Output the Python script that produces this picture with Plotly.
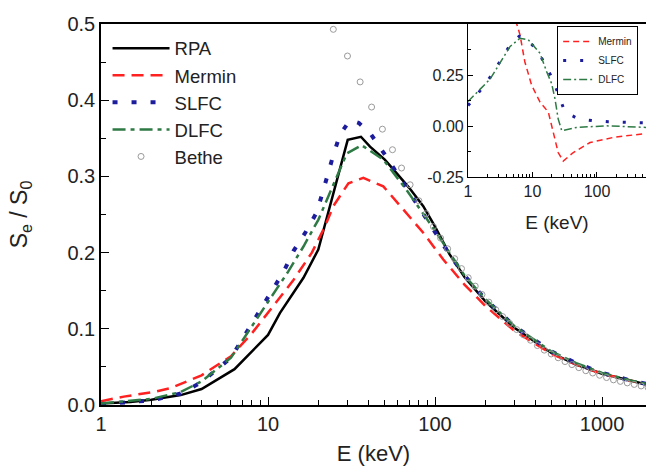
import plotly.graph_objects as go

# ---------------- main panel data ----------------
E_rpa = [1, 1.5, 2, 3, 4, 6.3, 10, 11.8, 16.3, 20, 30, 36, 40.8, 50, 59, 70, 85, 100, 122, 150, 200, 300, 500, 700, 1000, 1500, 2000]
S_rpa = [0.002, 0.004, 0.007, 0.013, 0.021, 0.047, 0.092, 0.121, 0.167, 0.204, 0.348, 0.352, 0.339, 0.322, 0.304, 0.285, 0.261, 0.234, 0.198, 0.168, 0.136, 0.101, 0.068, 0.053, 0.041, 0.031, 0.025]

E_mer = [1, 1.37, 2.05, 2.6, 4, 6, 8, 10, 14.2, 18.3, 21.9, 24.6, 30.3, 37.2, 49, 62, 85, 112, 150, 200, 300, 500, 700, 1000, 1500, 2000]
S_mer = [0.005, 0.011, 0.017, 0.022, 0.039, 0.064, 0.094, 0.121, 0.164, 0.2, 0.234, 0.261, 0.291, 0.298, 0.287, 0.261, 0.226, 0.191, 0.158, 0.13, 0.097, 0.067, 0.053, 0.041, 0.031, 0.025]

E_slfc = [1, 2, 3, 4, 6, 8.97, 10.6, 12.4, 14.2, 16.7, 19.6, 21.3, 22.9, 24.6, 27, 31, 35, 40.8, 50.3, 70.6, 99.7, 120, 150, 200, 300, 500, 700, 1000, 1500, 2000]
S_slfc = [0.001, 0.006, 0.015, 0.03, 0.062, 0.125, 0.149, 0.175, 0.202, 0.226, 0.253, 0.278, 0.304, 0.328, 0.355, 0.374, 0.37, 0.357, 0.328, 0.278, 0.226, 0.2, 0.17, 0.139, 0.103, 0.07, 0.055, 0.042, 0.032, 0.026]

E_dlfc = [1, 2, 3, 4, 6, 8.8, 10.7, 13.2, 16.3, 20, 23.5, 29.6, 36.3, 49, 67.6, 102, 150, 200, 300, 500, 700, 1000, 1500, 2000]
S_dlfc = [0.002, 0.008, 0.017, 0.031, 0.062, 0.118, 0.145, 0.175, 0.208, 0.243, 0.278, 0.330, 0.341, 0.322, 0.282, 0.226, 0.17, 0.139, 0.103, 0.07, 0.055, 0.042, 0.032, 0.026]

E_bethe = [24.6, 29.9, 35.6, 41.7, 48.4, 55.6, 63, 70.9, 80, 88.5, 97.8, 108, 119, 131, 144, 158, 174, 191, 210, 231, 254, 280, 308, 339, 373, 410, 451, 496, 546, 600, 660, 726, 799, 879, 967, 1064, 1170, 1287, 1416, 1558, 1714, 1885]
S_bethe = [0.493, 0.458, 0.424, 0.391, 0.362, 0.335, 0.311, 0.289, 0.268, 0.251, 0.234, 0.219, 0.205, 0.192, 0.179, 0.167, 0.156, 0.145, 0.135, 0.125, 0.116, 0.107, 0.099, 0.092, 0.085, 0.078, 0.072, 0.067, 0.062, 0.057, 0.053, 0.049, 0.045, 0.042, 0.039, 0.036, 0.033, 0.031, 0.029, 0.027, 0.025, 0.023]

# ---------------- inset data (relative difference) ----------------
Ei_mer = [3, 4.5, 5.7, 6.4, 7.6, 9.7, 13.1, 17.6, 21, 25, 30, 42.9, 78, 179, 464, 1000]
Vi_mer = [1.2, 0.8, 0.5, 0.447, 0.315, 0.2, 0.117, 0.068, -0.031, -0.13, -0.172, -0.13, -0.081, -0.056, -0.04, -0.03]

Ei_slfc = [1, 1.57, 2.33, 3.33, 4.59, 6.2, 7.8, 11.9, 16.2, 21, 25.7, 31.9, 51.5, 88, 149, 255, 447, 1000]
Vi_slfc = [0.10, 0.176, 0.25, 0.328, 0.402, 0.44, 0.435, 0.369, 0.296, 0.222, 0.145, 0.068, 0.035, 0.026, 0.021, 0.018, 0.015, 0.013]

Ei_dlfc = [1, 2.2, 4.5, 6.4, 8.6, 13.1, 16.6, 19.8, 22.3, 25, 28.4, 48.4, 141, 227, 464, 1000]
Vi_dlfc = [0.12, 0.23, 0.39, 0.43, 0.423, 0.356, 0.266, 0.208, 0.134, 0.035, -0.023, -0.007, 0.001, -0.002, -0.007, -0.01]

main_xticks = [1, 10, 100, 1000]
main_yticks = [0.0, 0.1, 0.2, 0.3, 0.4, 0.5]
inset_xticks = [1, 10, 100]
inset_yticks = [-0.25, 0.0, 0.25]
inset_yticktext = ["-0.25", "0.00", "0.25"]

RED = "#ff2020"
BLUE = "#1c1c9c"
GREEN = "#2e7a44"
GREY = "#9a9a9a"
FONT = "Liberation Sans, Arial, sans-serif"

fig = go.Figure()

fig.add_trace(go.Scatter(x=E_rpa, y=S_rpa, mode="lines", name="RPA",
                         line=dict(color="black", width=2.5), xaxis="x", yaxis="y"))
fig.add_trace(go.Scatter(x=E_mer, y=S_mer, mode="lines", name="Mermin",
                         line=dict(color=RED, width=2.5, dash="12px,7px"), xaxis="x", yaxis="y"))
fig.add_trace(go.Scatter(x=E_slfc, y=S_slfc, mode="lines", name="SLFC",
                         line=dict(color=BLUE, width=4, dash="5px,14px"), xaxis="x", yaxis="y"))
fig.add_trace(go.Scatter(x=E_dlfc, y=S_dlfc, mode="lines", name="DLFC",
                         line=dict(color=GREEN, width=2.5, dash="13px,5px,4px,5px"), xaxis="x", yaxis="y"))
fig.add_trace(go.Scatter(x=E_bethe, y=S_bethe, mode="markers", name="Bethe",
                         marker=dict(symbol="circle-open", size=6, color=GREY, line=dict(width=1)),
                         xaxis="x", yaxis="y"))

fig.add_trace(go.Scatter(x=Ei_mer, y=Vi_mer, mode="lines", name="Mermin", legend="legend2",
                         line=dict(color=RED, width=1.5, dash="6px,4px"), xaxis="x2", yaxis="y2"))
fig.add_trace(go.Scatter(x=Ei_slfc, y=Vi_slfc, mode="lines", name="SLFC", legend="legend2",
                         line=dict(color=BLUE, width=3, dash="3px,14px"), xaxis="x2", yaxis="y2"))
fig.add_trace(go.Scatter(x=Ei_dlfc, y=Vi_dlfc, mode="lines", name="DLFC", legend="legend2",
                         line=dict(color=GREEN, width=1.5, dash="8px,3px,2px,3px"), xaxis="x2", yaxis="y2"))

ax_common = dict(showgrid=False, zeroline=False, showline=True, linecolor="black",
                 ticks="inside", tickcolor="black")

fig.update_layout(
    width=646, height=475,
    margin=dict(l=101, r=0, t=24, b=70),
    paper_bgcolor="white", plot_bgcolor="white",
    font=dict(family=FONT, color="#222"),
    xaxis=dict(type="log", range=[0, 3.263], domain=[0, 1], anchor="y",
               tickvals=main_xticks, ticktext=[str(v) for v in main_xticks],
               linewidth=1.5, mirror=True, ticklen=8, tickwidth=1.2,
               tickfont=dict(size=20, family=FONT),
               minor=dict(ticks="inside", ticklen=5, tickcolor="black", dtick="D1", showgrid=False),
               title=dict(text="E (keV)", font=dict(size=22, family=FONT), standoff=12),
               **ax_common),
    yaxis=dict(range=[0, 0.5], domain=[0, 1], anchor="x",
               tickvals=main_yticks, tickformat=".1f",
               linewidth=1.5, ticklen=8, tickwidth=1.2,
               tickfont=dict(size=20, family=FONT),
               minor=dict(ticks="inside", ticklen=5, tickcolor="black", dtick=0.05, showgrid=False),
               title=dict(text="S<sub>e</sub> / S<sub>0</sub>", font=dict(size=23, family=FONT), standoff=33),
               **ax_common),
    xaxis2=dict(type="log", range=[0, 2.76], domain=[0.6734, 1], anchor="y2",
                tickvals=inset_xticks, ticktext=[str(v) for v in inset_xticks],
                linewidth=1.2, mirror=True, ticklen=5,
                tickfont=dict(size=16, family=FONT),
                minor=dict(ticks="inside", ticklen=3, tickcolor="black", dtick="D1", showgrid=False),
                title=dict(text="E (keV)", font=dict(size=19, family=FONT), standoff=16),
                **ax_common),
    yaxis2=dict(range=[-0.25, 0.5], domain=[0.5984, 1], anchor="x2",
                tickvals=inset_yticks, ticktext=inset_yticktext,
                linewidth=1.2, ticklen=5,
                tickfont=dict(size=16, family=FONT),
                minor=dict(ticks="inside", ticklen=3, tickcolor="black", dtick=0.125, showgrid=False),
                **ax_common),
    legend=dict(x=0.012, y=0.985, xanchor="left", yanchor="top",
                font=dict(size=18.5, family=FONT, color="#222"),
                bgcolor="rgba(0,0,0,0)", borderwidth=0, itemwidth=57,
                tracegroupgap=0),
    legend2=dict(x=0.837, y=0.995, xanchor="left", yanchor="top",
                 font=dict(size=10, family=FONT, color="#222"),
                 bgcolor="white", bordercolor="black", borderwidth=1, itemwidth=30),
    showlegend=True,
)

fig.write_html("out.html", config={"displayModeBar": False},
               post_script="document.body.style.margin='0';document.body.style.padding='0';")
